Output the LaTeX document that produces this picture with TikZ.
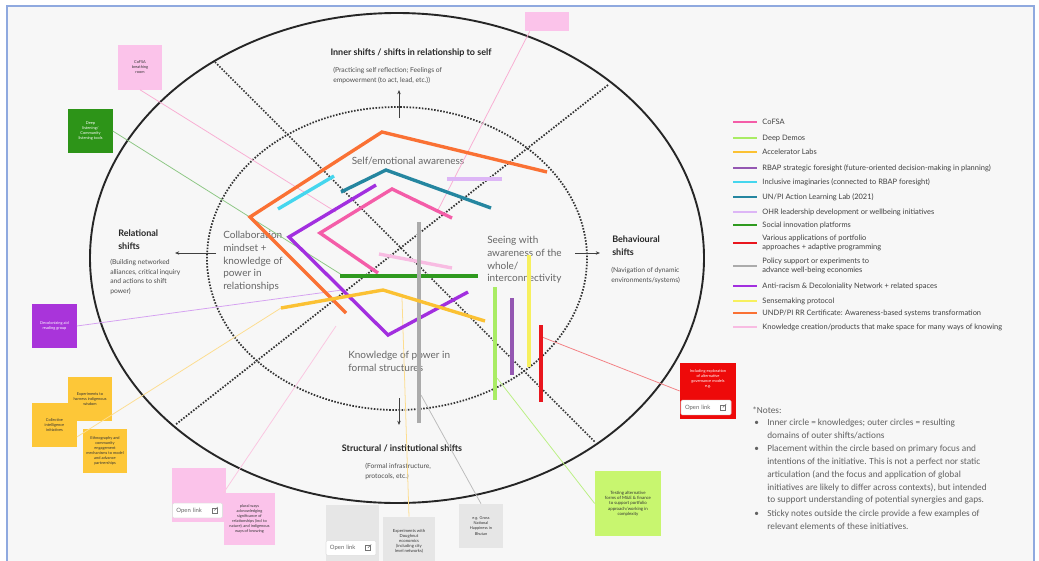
\documentclass[tikz,border=0pt]{standalone}
\usepackage{fontspec}
\setmainfont{Lato}
\newfontfamily\notefont{Carlito}
\usetikzlibrary{positioning,arrows.meta,calc}

% board colours
\definecolor{boardbg}{HTML}{F7F7F7}
\definecolor{boardbl}{HTML}{8FA9DF}
% initiative colours
\definecolor{cofsa}{HTML}{F45DA8}
\definecolor{deepdemo}{HTML}{A9EC64}
\definecolor{accel}{HTML}{FBC133}
\definecolor{rbap}{HTML}{9457B2}
\definecolor{imagin}{HTML}{45D6EE}
\definecolor{actlab}{HTML}{2586A0}
\definecolor{ohr}{HTML}{DDB6F6}
\definecolor{socinno}{HTML}{2F9A1F}
\definecolor{portf}{HTML}{E9161E}
\definecolor{policy}{HTML}{ABABAB}
\definecolor{antirac}{HTML}{A22FDF}
\definecolor{sense}{HTML}{F7F05E}
\definecolor{rrcert}{HTML}{FA7134}
\definecolor{knowc}{HTML}{F8BCE2}
% sticky colours
\definecolor{stpink}{HTML}{FBC3EA}
\definecolor{stgreen}{HTML}{2D9418}
\definecolor{stpurple}{HTML}{A934DA}
\definecolor{styellow}{HTML}{FDC738}
\definecolor{stgray}{HTML}{E6E6E6}
\definecolor{stlime}{HTML}{C8F66F}
\definecolor{stred}{HTML}{EE0A0A}

\newcommand{\linkicon}[1]{%
  \draw[black!55, line width=0.35pt] ($(#1.east)+(-11,-2.5)$) rectangle ++(5,5);
  \draw[black!55, line width=0.35pt] ($(#1.east)+(-8.5,0)$) -- ++(3.5,-3.5);}

\begin{document}
\begin{tikzpicture}[x=0.025cm, y=-0.025cm,
    every node/.style={inner sep=0pt},
    outerring/.style={draw=black!85, line width=1.35pt},
    dotring/.style={draw=black!80, line width=1.25pt, dash pattern=on 1.1pt off 1.1pt},
    axisarrow/.style={draw=black!75, line width=0.55pt, -{Stealth[length=3pt, width=2.4pt]}},
    initline/.style={line width=2.4pt},
    thinlink/.style={line width=0.55pt},
    shifttitle/.style={font=\bfseries\fontsize{6.4}{9.2}\selectfont, text=black!85, align=left},
    shiftnote/.style={font=\fontsize{4.8}{6.8}\selectfont, text=black!70, align=left},
    knowlabel/.style={font=\fontsize{7.1}{9.2}\selectfont, text=black!60, align=left},
    sticky/.style={minimum width=1.1cm, minimum height=1.1cm, align=center, font=\fontsize{2.8}{3.6}\selectfont, text=black!80},
    linkbtn/.style={fill=white, draw=black!12, rounded corners=1pt, minimum width=1.25cm, minimum height=0.37cm, font=\fontsize{4.2}{5}\selectfont, text=black!60, align=left, text width=1.05cm},
    legline/.style={line width=1.3pt},
    legtext/.style={font=\fontsize{5.3}{6.8}\selectfont, text=black!75, align=left},
    notetext/.style={font=\notefont\fontsize{6.6}{9.2}\selectfont, text=black!62, align=left}]

  \clip (0,0) rectangle (1039,560);
  % Board
  \fill[white] (0,0) rectangle (1039,560);
  \fill[boardbg] (7,6) rectangle (1034,565);
  \draw[boardbl, line width=1.4pt] (7,565) -- (7,6) -- (1034,6) -- (1034,565);

  % Rings and quadrant chords
  \draw[outerring] (397,258) ellipse [x radius=307, y radius=245];
  \draw[dotring] (397,258.5) ellipse [x radius=190, y radius=151.5];
  \coordinate (diagA1) at (215,62);
  \coordinate (diagA2) at (595,442);
  \coordinate (diagB1) at (608,85);
  \coordinate (diagB2) at (175,425);
  \draw[dotring] (diagA1) -- (diagA2);
  \draw[dotring] (diagB1) -- (diagB2);

  % Axis arrows
  \coordinate (topin) at (399,118);    \coordinate (topout) at (399,90);
  \coordinate (leftin) at (216,253);   \coordinate (leftout) at (175,253);
  \coordinate (rightin) at (575,253);  \coordinate (rightout) at (600,253);
  \coordinate (botin) at (399,398);    \coordinate (botout) at (399,425);
  \draw[axisarrow] (topin) -- (topout);
  \draw[axisarrow] (leftin) -- (leftout);
  \draw[axisarrow] (rightin) -- (rightout);
  \draw[axisarrow] (botin) -- (botout);

  % Outer shift labels
  \node (innertitle) [shifttitle] at (411,53) {Inner shifts / shifts in relationship to self};
  \node (innernote) [shiftnote, anchor=north west] at (333,67) {(Practicing self reflection; Feelings of\\empowerment (to act, lead, etc.))};
  \node (reltitle) [shifttitle, anchor=north west] at (118,230) {Relational\\shifts};
  \node (relnote) [shiftnote, anchor=north west] at (110,259) {(Building networked\\alliances, critical inquiry\\and actions to shift\\power)};
  \node (behtitle) [shifttitle, anchor=north west] at (612,236) {Behavioural\\shifts};
  \node (behnote) [shiftnote, anchor=north west] at (611,267) {(Navigation of dynamic\\environments/systems)};
  \node (structitle) [shifttitle] at (402,448) {Structural / institutional shifts};
  \node (strucnote) [shiftnote, anchor=north west] at (365,463) {(Formal infrastructure,\\protocols, etc.)};

  % Knowledge labels
  \node (selfaware) [knowlabel] at (408,161) {Self/emotional awareness};
  \node (collab) [knowlabel, anchor=north west] at (223,230.5) {Collaboration\\mindset +\\knowledge of\\power in\\relationships};
  \node (seeing) [knowlabel, anchor=north west] at (487,235.5) {Seeing with\\awareness of the\\whole/\\interconnectivity};
  \node (formal) [knowlabel, anchor=north west] at (348,350.5) {Knowledge of power in\\formal structures};

  % Sticky notes
  \node (cofsabox) [sticky, fill=stpink] at (140,67.5) {CoFSA\\breathing\\room};
  \node (listenbox) [sticky, fill=stgreen, text=white] at (90.5,131) {Deep\\listening/\\Community\\listening tools};
  \node (topbox) [sticky, fill=stpink, minimum height=0.48cm] at (547,21.5) {};
  \node (decolbox) [sticky, fill=stpurple, text=white] at (54.5,326) {Decolonizing aid\\reading group};
  \node (wisdombox) [sticky, fill=styellow] at (90,399) {Experiments to\\harness indigenous\\wisdom};
  \node (collbox) [sticky, fill=styellow] at (54.5,425) {Collective\\intelligence\\initiatives};
  \node (ethnobox) [sticky, fill=styellow] at (105,451) {Ethnography and\\community\\engagement\\mechanisms to model\\and advance\\partnerships};
  \node (pinklinkbox) [sticky, fill=stpink, minimum width=1.35cm, minimum height=1.35cm] at (199,495) {};
  \node (pluralbox) [sticky, fill=stpink, minimum width=1.28cm, minimum height=1.3cm] at (249.5,519) {plural ways\\acknowledging\\significance of\\relationships (incl to\\nature), and indigenous\\ways of knowing};
  \node (graylinkbox) [sticky, fill=stgray, minimum width=1.33cm, minimum height=1.5cm] at (352.5,535) {};
  \node (doughbox) [sticky, fill=stgray, minimum width=1.3cm, minimum height=1.2cm, font=\fontsize{3}{3.6}\selectfont] at (409,541) {Experiments with\\Doughnut\\economics\\(including city\\level networks)};
  \node (gnhbox) [sticky, fill=stgray] at (481,526) {e.g. Gross\\National\\Happiness in\\Bhutan};
  \node (testbox) [sticky, fill=stlime, minimum width=1.65cm, minimum height=1.63cm, font=\fontsize{3.1}{3.8}\selectfont] at (628,503.5) {Testing alternative\\forms of M\&E \& finance\\to support portfolio\\approach/working in\\complexity};
  \node (redbox) [sticky, fill=stred, minimum width=1.4cm, minimum height=1.4cm] at (708,391) {};
  \node (redtxt) [sticky, text=white, minimum width=0pt, minimum height=0pt, below=0.17cm of redbox.north] {Including exploration\\of alternative\\governance models\\e.g.};

  % Open link buttons
  \node (redlink) [linkbtn] at (706,407.5) {Open link};
  \node (pinklink) [linkbtn] at (197.5,510.5) {Open link};
  \node (graylink) [linkbtn] at (351,548) {Open link};
  \linkicon{redlink}
  \linkicon{pinklink}
  \linkicon{graylink}

  % Sticky connectors
  \coordinate (cofsaend) at (336,212);
  \coordinate (listenend) at (342,275);
  \coordinate (topend) at (438,210);
  \coordinate (decolend) at (342,290);
  \coordinate (accelend) at (281,308);
  \coordinate (pluralend) at (336,326);
  \coordinate (doughend) at (402,298);
  \coordinate (gnhend) at (421,395);
  \coordinate (testend) at (497,378);
  \coordinate (portfend) at (542,337);
  \draw[thinlink, cofsa!50] (cofsabox.south) -- (cofsaend);
  \draw[thinlink, socinno!55] (listenbox.east) -- (listenend);
  \draw[thinlink, cofsa!50] ($(topbox.south west)+(5,0)$) -- (topend);
  \draw[thinlink, antirac!45] (decolbox.east) -- (decolend);
  \draw[thinlink, accel!55] ($(collbox.east)+(0,12)$) -- (accelend);
  \draw[thinlink, cofsa!35] (pluralbox.north west) -- (pluralend);
  \draw[thinlink, accel!55] (doughbox.north) -- (doughend);
  \draw[thinlink, policy!80] (gnhbox.north) -- (gnhend);
  \draw[thinlink, deepdemo!80] (testbox.west) -- (testend);
  \draw[thinlink, portf!55] (redbox.west) -- (portfend);

  % Initiatives
  \draw[initline, rrcert] (547,172) -- (382,132) -- (250,217) -- (346,313);
  \draw[initline, imagin] (278,209) -- (334,176);
  \draw[initline, actlab] (341,192) -- (386,170) -- (491,208);
  \draw[initline, antirac] (376,185) -- (289,237) -- (388,335) -- (468,292);
  \draw[initline, cofsa] (452,218) -- (392,189) -- (320,233) -- (378,273);
  \draw[initline, ohr] (447,179) -- (502,179);
  \draw[initline, knowc] (379,254) -- (452,268);
  \draw[initline, socinno] (340,276) -- (478,276);
  \draw[initline, policy] (419,222) -- (419,423);
  \draw[initline, accel] (281,308) -- (383,290) -- (485,321);
  \draw[initline, deepdemo] (495,287) -- (495,400);
  \draw[initline, rbap] (512,298) -- (512,375);
  \draw[initline, sense] (529,255) -- (529,367);
  \draw[initline, portf] (541,325) -- (541,402);

  % Legend
  \foreach \col/\yy/\txt [count=\i] in {cofsa/122/{CoFSA}, deepdemo/138/{Deep Demos}, accel/152/{Accelerator Labs},
      rbap/168/{RBAP strategic foresight (future-oriented decision-making in planning)},
      imagin/182/{Inclusive imaginaries (connected to RBAP foresight)},
      actlab/197/{UN/PI Action Learning Lab (2021)},
      ohr/212/{OHR leadership development or wellbeing initiatives},
      socinno/225/{Social innovation platforms},
      portf/243/{Various applications of portfolio\\approaches + adaptive programming},
      policy/266/{Policy support or experiments to\\advance well-being economies},
      antirac/286/{Anti-racism \& Decoloniality Network + related spaces},
      sense/301/{Sensemaking protocol},
      rrcert/313/{UNDP/PI RR Certificate: Awareness-based systems transformation},
      knowc/327/{Knowledge creation/products that make space for many ways of knowing}} {
    \coordinate (legend\i) at (733,\yy);
    \draw[legline, draw=\col] (legend\i) -- ++(24,0) coordinate (legendend\i);
    \node (legtxt\i) [legtext, right=0.13cm of legendend\i] {\txt};
  }

  % Notes
  \node (notehead) [notetext, anchor=west] at (752,410) {*Notes:};
  \node (bullet1) [notetext, anchor=west] at (754,423) {•};
  \node (note1) [notetext, anchor=north west] at (767,418.5) {Inner circle = knowledges; outer circles = resulting\\domains of outer shifts/actions};
  \node (bullet2) [notetext, anchor=west] at (754,449) {•};
  \node (note2) [notetext, anchor=north west] at (767,444.5) {Placement within the circle based on primary focus and\\intentions of the initiative. This is not a perfect nor static\\articulation (and the focus and application of global\\initiatives are likely to differ across contexts), but intended\\to support understanding of potential synergies and gaps.};
  \node (bullet3) [notetext, anchor=west] at (754,514) {•};
  \node (note3) [notetext, anchor=north west] at (767,509.5) {Sticky notes outside the circle provide a few examples of\\relevant elements of these initiatives.};
\end{tikzpicture}
\end{document}
